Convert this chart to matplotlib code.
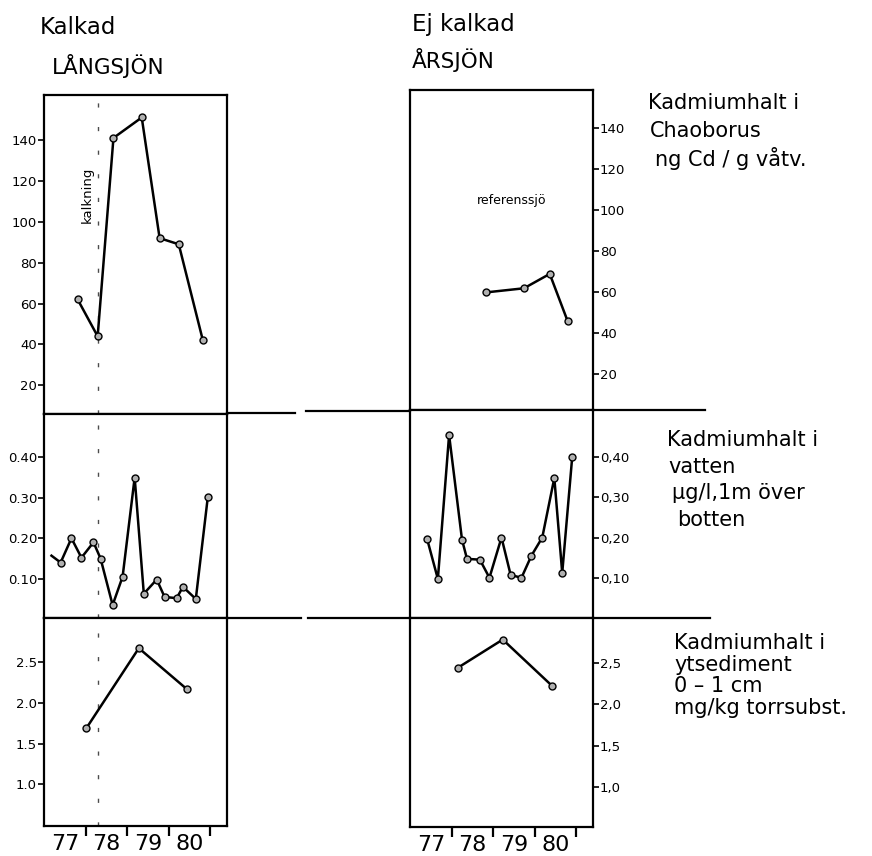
import matplotlib
matplotlib.use('Agg')
import matplotlib.pyplot as plt
from matplotlib.lines import Line2D
from matplotlib.ticker import FixedLocator, FuncFormatter

# Chaoborus, ng Cd / g vatv.
lang_chao_x = [1977.81, 1978.29, 1978.67, 1979.35, 1979.78, 1980.24, 1980.82]
lang_chao_y = [62, 44, 141, 151, 92, 89, 42]
ars_chao_x = [1978.83, 1979.74, 1980.36, 1980.79]
ars_chao_y = [60, 62, 69, 46]

# vatten, ug/l 1 m over botten
lang_vat_x = [1977.18, 1977.40, 1977.66, 1977.90, 1978.19, 1978.36, 1978.65, 1978.89,
              1979.18, 1979.40, 1979.71, 1979.90, 1980.19, 1980.34, 1980.65, 1980.94]
lang_vat_y = [0.157, 0.14, 0.20, 0.152, 0.19, 0.15, 0.035, 0.105,
              0.35, 0.063, 0.098, 0.055, 0.052, 0.08, 0.05, 0.303]
ars_vat_x = [1977.41, 1977.67, 1977.94, 1978.25, 1978.37, 1978.68, 1978.91, 1979.20,
             1979.42, 1979.68, 1979.92, 1980.18, 1980.47, 1980.66, 1980.90]
ars_vat_y = [0.197, 0.097, 0.455, 0.195, 0.147, 0.145, 0.10, 0.20,
             0.107, 0.10, 0.155, 0.20, 0.348, 0.112, 0.40]

# ytsediment, mg/kg torrsubst.
lang_sed_x = [1978.02, 1979.28, 1980.43]
lang_sed_y = [1.69, 2.67, 2.17]
ars_sed_x = [1978.15, 1979.23, 1980.42]
ars_sed_y = [2.44, 2.78, 2.22]

years = ['77', '78', '79', '80']
kalkning_x = 1978.3

W, H = 872, 856
fig = plt.figure(figsize=(W / 100, H / 100), dpi=100)
plt.rcParams['font.family'] = ['DejaVu Sans']


def box(x0, y0, x1, y1):
    # pixel box (top-left origin) -> figure fraction
    return [x0 / W, 1 - y1 / H, (x1 - x0) / W, (y1 - y0) / H]


def setup(ax, side, ylim, yticks, fmt, bottom=False):
    ax.set_xlim(1977.0, 1981.4)
    ax.set_ylim(*ylim)
    for s in ax.spines.values():
        s.set_linewidth(1.6)
    ax.yaxis.set_major_locator(FixedLocator(yticks))
    ax.yaxis.set_major_formatter(FuncFormatter(fmt))
    if side == 'right':
        ax.yaxis.tick_right()
    ax.tick_params(axis='y', direction='out', length=4, width=1.2, labelsize=9.5, pad=1)
    if bottom:
        ax.set_xticks([1978, 1979, 1980, 1981])
        ax.set_xticks([1977.5, 1978.5, 1979.5, 1980.5], minor=True)
        ax.set_xticklabels([])
        ax.set_xticklabels(years, minor=True, fontsize=16)
        ax.tick_params(axis='x', which='major', direction='out', length=7, width=1.6)
        ax.tick_params(axis='x', which='minor', length=0, pad=6)
    else:
        ax.set_xticks([])


def series(ax, x, y, first_marker=True):
    mk = None if first_marker else list(range(1, len(x)))
    ax.plot(x, y, color='black', lw=1.8, marker='o', ms=5, mfc='#b0b0b0',
            mec='black', mew=1.0, markevery=mk)


int_fmt = lambda v, p: f'{v:.0f}'
dot2 = lambda v, p: f'{v:.2f}'
dot1 = lambda v, p: f'{v:.1f}'
com2 = lambda v, p: f'{v:.2f}'.replace('.', ',')
com1 = lambda v, p: f'{v:.1f}'.replace('.', ',')

# left column (Langsjon)
axL1 = fig.add_axes(box(44, 95, 227, 414))
setup(axL1, 'left', (6, 162), [20, 40, 60, 80, 100, 120, 140], int_fmt)
series(axL1, lang_chao_x, lang_chao_y)
axL1.text(1978.05, 113, 'kalkning', rotation=90, ha='center', va='center', fontsize=9.5)

axL2 = fig.add_axes(box(44, 414, 227, 618))
setup(axL2, 'left', (0.003, 0.507), [0.1, 0.2, 0.3, 0.4], dot2)
series(axL2, lang_vat_x, lang_vat_y, first_marker=False)

axL3 = fig.add_axes(box(44, 618, 227, 826))
setup(axL3, 'left', (0.49, 3.04), [1.0, 1.5, 2.0, 2.5], dot1, bottom=True)
series(axL3, lang_sed_x, lang_sed_y)

for ax in (axL1, axL2, axL3):
    ax.axvline(kalkning_x, color='black', lw=1.0, ls=(0, (3, 14)), alpha=0.7)

# right column (Arsjon)
axR1 = fig.add_axes(box(410, 90, 593, 410))
setup(axR1, 'right', (2.7, 158.6), [20, 40, 60, 80, 100, 120, 140], int_fmt)
series(axR1, ars_chao_x, ars_chao_y)
axR1.text(1979.44, 104.7, 'referenssjö', ha='center', va='center', fontsize=9)

axR2 = fig.add_axes(box(410, 410, 593, 618))
setup(axR2, 'right', (0.0, 0.517), [0.1, 0.2, 0.3, 0.4], com2)
series(axR2, ars_vat_x, ars_vat_y)

axR3 = fig.add_axes(box(410, 618, 593, 827))
setup(axR3, 'right', (0.52, 3.04), [1.0, 1.5, 2.0, 2.5], com1, bottom=True)
series(axR3, ars_sed_x, ars_sed_y)

# separating lines across the gap
def hline(x0, x1, y):
    fig.add_artist(Line2D([x0 / W, x1 / W], [1 - y / H, 1 - y / H], color='black', lw=1.6))

hline(227, 295, 413)
hline(306, 410, 411)
hline(593, 705, 410)
hline(227, 301, 618)
hline(308, 410, 618)
hline(593, 710, 618)

# headings and descriptions
def ftext(x, y, s, size=15):
    fig.text(x / W, 1 - y / H, s, ha='left', va='center', fontsize=size)

ftext(40, 28, 'Kalkad', 16.5)
ftext(52, 66, 'LÅNGSJÖN', 15.5)
ftext(412, 24, 'Ej kalkad', 16.5)
ftext(412, 60, 'ÅRSJÖN', 15.5)

ftext(648, 103, 'Kadmiumhalt i')
ftext(650, 131, 'Chaoborus')
ftext(655, 159, 'ng Cd / g våtv.')

ftext(667, 440, 'Kadmiumhalt i')
ftext(668, 467, 'vatten')
ftext(672, 493, 'µg/l,1m över')
ftext(677, 520, 'botten')

ftext(674, 643, 'Kadmiumhalt i')
ftext(674, 665, 'ytsediment')
ftext(674, 686, '0 – 1 cm')
ftext(674, 708, 'mg/kg torrsubst.')

fig.savefig('out.png', dpi=100)
